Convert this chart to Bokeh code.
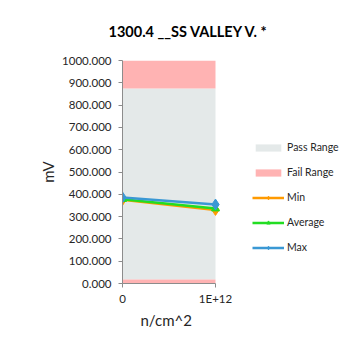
from bokeh.plotting import figure
from bokeh.models import (Range1d, FixedTicker, NumeralTickFormatter, Legend, LegendItem,
                          ColumnDataSource, Title)
from bokeh.embed import file_html
from bokeh.resources import INLINE

# ---- data ----
x_labels = ["0", "1E+12"]
x_pos = [0, 1]
min_mv = [375, 330]
avg_mv = [378, 336]
max_mv = [386, 354]
fail_low_top = 18      # lower fail band 0..18
pass_top = 875         # pass band 18..875
axis_max = 1000        # upper fail band 875..1000
y_ticks = [0, 100, 200, 300, 400, 500, 600, 700, 800, 900, 1000]

FONT = "Lato"
PASS_C = "#E4E9E9"
FAIL_C = "#FFB3B3"
MIN_C = "#FF9A00"
AVG_C = "#22DD22"
MAX_C = "#3A98D4"

# layout (pixels)
W, H = 342, 339
LEFT, TOP, BOTTOM = 122, 60, 283
AREA_W = 93                      # width of the plotting area (0 .. 1E+12)
FRAME_W = W - LEFT               # frame extends right to hold the legend
x_end = x_pos[-1] * FRAME_W / AREA_W

p = figure(width=W, height=H, output_backend="svg", toolbar_location=None,
           x_range=Range1d(x_pos[0], x_end), y_range=Range1d(0, axis_max),
           min_border_left=LEFT, min_border_right=0, min_border_top=TOP,
           min_border_bottom=H - BOTTOM)
p.outline_line_color = None
p.grid.visible = False
p.background_fill_color = "white"
p.border_fill_color = "white"

p.title.text = "1300.4 __SS VALLEY V. *"
p.title.text_font = FONT
p.title.text_font_size = "14.5px"
p.title.text_font_style = "bold"
p.title.text_color = "#000000"
p.title.align = "left"
p.title.vertical_align = "top"
p.title.offset = -14
p.title.standoff = 37

src = ColumnDataSource(dict(x=x_pos, z=[0, 0], f1=[fail_low_top]*2, pt=[pass_top]*2,
                            top=[axis_max]*2, mn=min_mv, av=avg_mv, mx=max_mv))

pass_r = p.varea(x="x", y1="f1", y2="pt", source=src, fill_color=PASS_C)
fail_r = p.varea(x="x", y1="pt", y2="top", source=src, fill_color=FAIL_C)
p.varea(x="x", y1="z", y2="f1", source=src, fill_color=FAIL_C)

min_l = p.line(x="x", y="mn", source=src, line_color=MIN_C, line_width=2.5)
min_m = p.scatter(x="x", y="mn", source=src, marker="diamond", size=11, color=MIN_C)
avg_l = p.line(x="x", y="av", source=src, line_color=AVG_C, line_width=2.5)
avg_m = p.scatter(x="x", y="av", source=src, marker="triangle", size=8, color=AVG_C)
max_l = p.line(x="x", y="mx", source=src, line_color=MAX_C, line_width=2.5)
max_m = p.scatter(x="x", y="mx", source=src, marker="diamond", size=11, color=MAX_C)

# axes
p.yaxis.ticker = FixedTicker(ticks=y_ticks)
p.yaxis.formatter = NumeralTickFormatter(format="0.000")
p.yaxis.axis_label = "mV"
p.xaxis.ticker = FixedTicker(ticks=x_pos)
p.xaxis.bounds = (x_pos[0], x_pos[-1])
p.xaxis.major_label_overrides = {x_pos[i]: x_labels[i] for i in range(len(x_pos))}
for ax in (p.xaxis[0], p.yaxis[0]):
    ax.axis_line_color = "#8c8c8c"
    ax.major_tick_line_color = "#8c8c8c"
    ax.major_tick_out = 4
    ax.major_tick_in = 0
    ax.minor_tick_line_color = None
    ax.major_label_text_font = FONT
    ax.major_label_text_font_size = "11.5px"
    ax.major_label_text_color = "#262626"
    ax.axis_label_text_font = FONT
    ax.axis_label_text_font_size = "15px"
    ax.axis_label_text_font_style = "normal"
    ax.axis_label_text_color = "#262626"
p.yaxis.major_label_standoff = 7
p.yaxis.axis_label_standoff = 2
p.xaxis.major_label_standoff = 4

# x-axis title centred under the plotting area (not the whole frame)
xtitle = Title(text="n/cm^2", align="left", vertical_align="top", offset=18, standoff=6,
               text_font=FONT, text_font_size="15px", text_font_style="normal",
               text_color="#262626")
p.add_layout(xtitle, "below")

legend = Legend(items=[
    LegendItem(label="Pass Range", renderers=[pass_r]),
    LegendItem(label="Fail Range", renderers=[fail_r]),
    LegendItem(label="Min", renderers=[min_l, min_m]),
    LegendItem(label="Average", renderers=[avg_l, avg_m]),
    LegendItem(label="Max", renderers=[max_l, max_m]),
], location=(130, 30))
legend.border_line_color = None
legend.background_fill_alpha = 0
legend.padding = 0
legend.margin = 0
legend.spacing = 13
legend.glyph_width = 32
legend.glyph_height = 9
legend.label_height = 9
legend.label_standoff = 3
legend.label_text_font = FONT
legend.label_text_font_size = "10.5px"
legend.label_text_color = "#262626"
legend.label_text_baseline = "middle"
p.add_layout(legend, "center")

open("out.html", "w").write(file_html(p, INLINE))
